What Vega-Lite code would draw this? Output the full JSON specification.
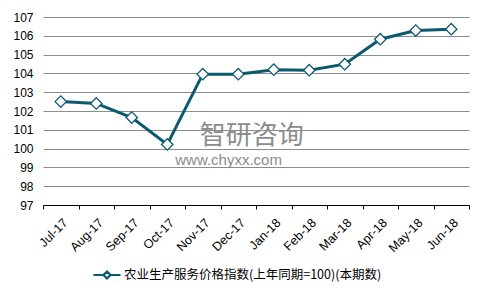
{
  "$schema": "https://vega.github.io/schema/vega-lite/v6.json",
  "width": 426,
  "height": 188,
  "autosize": {"type": "none"},
  "padding": {"left": 43, "top": 17, "right": 18, "bottom": 92},
  "background": "#ffffff",
  "config": {
    "view": {"stroke": null},
    "font": "Liberation Sans"
  },
  "datasets": {
    "main": [
      {"month": "Jul-17", "value": 102.5, "series": "农业生产服务价格指数(上年同期=100)(本期数)"},
      {"month": "Aug-17", "value": 102.4, "series": "农业生产服务价格指数(上年同期=100)(本期数)"},
      {"month": "Sep-17", "value": 101.65, "series": "农业生产服务价格指数(上年同期=100)(本期数)"},
      {"month": "Oct-17", "value": 100.22, "series": "农业生产服务价格指数(上年同期=100)(本期数)"},
      {"month": "Nov-17", "value": 103.96, "series": "农业生产服务价格指数(上年同期=100)(本期数)"},
      {"month": "Dec-17", "value": 103.96, "series": "农业生产服务价格指数(上年同期=100)(本期数)"},
      {"month": "Jan-18", "value": 104.2, "series": "农业生产服务价格指数(上年同期=100)(本期数)"},
      {"month": "Feb-18", "value": 104.17, "series": "农业生产服务价格指数(上年同期=100)(本期数)"},
      {"month": "Mar-18", "value": 104.49, "series": "农业生产服务价格指数(上年同期=100)(本期数)"},
      {"month": "Apr-18", "value": 105.82, "series": "农业生产服务价格指数(上年同期=100)(本期数)"},
      {"month": "May-18", "value": 106.28, "series": "农业生产服务价格指数(上年同期=100)(本期数)"},
      {"month": "Jun-18", "value": 106.35, "series": "农业生产服务价格指数(上年同期=100)(本期数)"}
    ],
    "wm": [
      {"month": "Nov-17", "value": 100.66, "label": "智研咨询", "kind": "big"},
      {"month": "Oct-17", "value": 99.38, "label": "www.chyxx.com", "kind": "small"}
    ]
  },
  "encoding": {
    "x": {
      "field": "month", "type": "ordinal",
      "sort": ["Jul-17", "Aug-17", "Sep-17", "Oct-17", "Nov-17", "Dec-17", "Jan-18", "Feb-18", "Mar-18", "Apr-18", "May-18", "Jun-18"],
      "scale": {"domain": ["Jul-17", "Aug-17", "Sep-17", "Oct-17", "Nov-17", "Dec-17", "Jan-18", "Feb-18", "Mar-18", "Apr-18", "May-18", "Jun-18"], "paddingInner": 0, "paddingOuter": 0},
      "axis": {
        "title": null, "labelAngle": -45, "labelFontSize": 12.5, "labelColor": "#000000",
        "labelPadding": 7, "domainColor": "#000000", "tickColor": "#000000", "tickSize": 4,
        "tickBand": "extent", "grid": false, "labelAlign": "right", "labelBaseline": "top"
      }
    },
    "y": {
      "field": "value", "type": "quantitative",
      "scale": {"domain": [97, 107], "nice": false, "zero": false},
      "axis": {
        "title": null, "values": [97, 98, 99, 100, 101, 102, 103, 104, 105, 106, 107],
        "domain": false, "ticks": false, "labelPadding": 10, "labelFontSize": 12,
        "labelColor": "#000000", "gridColor": "#8c8c8c", "gridWidth": 1, "labelOverlap": false
      }
    }
  },
  "layer": [
    {
      "data": {"name": "main"},
      "mark": {"type": "line", "strokeWidth": 3, "color": "#0c5a70"},
      "encoding": {
        "color": {
          "field": "series", "type": "nominal",
          "scale": {"range": ["#0c5a70"]},
          "legend": {
            "title": null, "orient": "none", "legendX": 49, "legendY": 243,
            "symbolType": "M-1,0L-0.26,0M0.26,0L1,0M-0.26,0L0,-0.26L0.26,0L0,0.26Z",
            "symbolSize": 729, "symbolStrokeWidth": 2.2, "symbolFillColor": "#ffffff",
            "symbolStrokeColor": "#0c5a70", "labelFont": "Noto Sans CJK SC",
            "labelFontSize": 12.5, "labelColor": "#000000", "labelLimit": 400, "labelOffset": 2
          }
        }
      }
    },
    {
      "data": {"name": "wm"},
      "transform": [{"filter": "datum.kind == 'big'"}],
      "mark": {"type": "text", "align": "left", "baseline": "middle", "fontSize": 26, "font": "Noto Sans CJK SC", "color": "#8c8c8c", "dx": -3},
      "encoding": {"text": {"field": "label"}}
    },
    {
      "data": {"name": "wm"},
      "transform": [{"filter": "datum.kind == 'small'"}],
      "mark": {"type": "text", "align": "left", "baseline": "middle", "fontSize": 15, "font": "Liberation Sans", "color": "#8c8c8c", "dx": 8, "letterSpacing": 4},
      "encoding": {"text": {"field": "label"}}
    },
    {
      "data": {"name": "main"},
      "mark": {"type": "point", "shape": "diamond", "size": 130, "filled": true, "fill": "#ffffff", "stroke": "#0c5a70", "strokeWidth": 1.3, "opacity": 1},
      "encoding": {}
    }
  ]
}
